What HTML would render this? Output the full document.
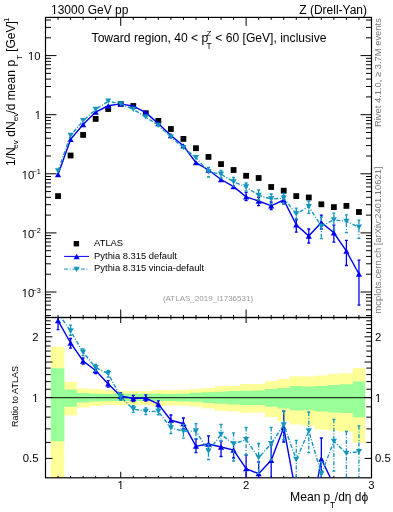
<!DOCTYPE html><html><head><meta charset="utf-8"><style>html,body{margin:0;padding:0;background:#fff;width:393px;height:512px;overflow:hidden}svg{display:block;will-change:transform}</style></head><body>
<svg width="393" height="512" viewBox="0 0 393 512">
<rect x="0" y="0" width="393" height="512" fill="#fff"/>
<defs><clipPath id="cm"><rect x="45.5" y="17.4" width="326.0" height="300.1"/></clipPath><clipPath id="cr"><rect x="45.5" y="317.5" width="326.0" height="160.3"/></clipPath></defs>
<g clip-path="url(#cr)">
<path d="M50.80 346.80L64.31 346.80L64.31 381.90L76.84 381.90L76.84 388.20L89.38 388.20L89.38 389.30L101.92 389.30L101.92 390.30L114.46 390.30L114.46 390.90L127.00 390.90L127.00 390.90L139.54 390.90L139.54 390.90L152.07 390.90L152.07 389.90L164.61 389.90L164.61 390.30L177.15 390.30L177.15 389.90L189.69 389.90L189.69 388.90L202.22 388.90L202.22 388.00L214.76 388.00L214.76 385.90L227.30 385.90L227.30 385.90L239.84 385.90L239.84 384.10L252.38 384.10L252.38 384.10L264.92 384.10L264.92 381.20L277.45 381.20L277.45 379.10L289.99 379.10L289.99 376.30L302.53 376.30L302.53 376.50L315.07 376.50L315.07 375.50L327.61 375.50L327.61 374.10L340.14 374.10L340.14 373.20L352.68 373.20L352.68 367.90L365.22 367.90L365.22 442.70L352.68 442.70L352.68 431.80L340.14 431.80L340.14 430.70L327.61 430.70L327.61 429.50L315.07 429.50L315.07 425.70L302.53 425.70L302.53 424.60L289.99 424.60L289.99 421.10L277.45 421.10L277.45 416.90L264.92 416.90L264.92 412.40L252.38 412.40L252.38 412.80L239.84 412.80L239.84 411.40L227.30 411.40L227.30 410.70L214.76 410.70L214.76 408.50L202.22 408.50L202.22 406.70L189.69 406.70L189.69 405.70L177.15 405.70L177.15 405.30L164.61 405.30L164.61 405.90L152.07 405.90L152.07 404.90L139.54 404.90L139.54 404.90L127.00 404.90L127.00 404.90L114.46 404.90L114.46 405.00L101.92 405.00L101.92 406.00L89.38 406.00L89.38 407.60L76.84 407.60L76.84 415.40L64.31 415.40L64.31 478.00L50.80 478.00Z" fill="#ffff99"/>
<path d="M50.80 368.20L64.31 368.20L64.31 389.40L76.84 389.40L76.84 392.90L89.38 392.90L89.38 393.70L101.92 393.70L101.92 394.00L114.46 394.00L114.46 393.80L127.00 393.80L127.00 393.80L139.54 393.80L139.54 393.80L152.07 393.80L152.07 393.80L164.61 393.80L164.61 394.10L177.15 394.10L177.15 393.80L189.69 393.80L189.69 392.70L202.22 392.70L202.22 392.20L214.76 392.20L214.76 391.80L227.30 391.80L227.30 391.10L239.84 391.10L239.84 390.70L252.38 390.70L252.38 390.40L264.92 390.40L264.92 388.90L277.45 388.90L277.45 387.90L289.99 387.90L289.99 386.10L302.53 386.10L302.53 386.60L315.07 386.60L315.07 386.00L327.61 386.00L327.61 385.00L340.14 385.00L340.14 384.30L352.68 384.30L352.68 381.50L365.22 381.50L365.22 417.20L352.68 417.20L352.68 413.10L340.14 413.10L340.14 412.40L327.61 412.40L327.61 411.40L315.07 411.40L315.07 410.30L302.53 410.30L302.53 410.60L289.99 410.60L289.99 408.50L277.45 408.50L277.45 406.70L264.92 406.70L264.92 405.10L252.38 405.10L252.38 405.10L239.84 405.10L239.84 404.40L227.30 404.40L227.30 403.70L214.76 403.70L214.76 403.00L202.22 403.00L202.22 401.80L189.69 401.80L189.69 401.50L177.15 401.50L177.15 401.10L164.61 401.10L164.61 401.10L152.07 401.10L152.07 401.10L139.54 401.10L139.54 401.10L127.00 401.10L127.00 401.10L114.46 401.10L114.46 401.00L101.92 401.00L101.92 401.50L89.38 401.50L89.38 402.50L76.84 402.50L76.84 406.80L64.31 406.80L64.31 441.20L50.80 441.20Z" fill="#99ff99"/>
<line x1="45.5" y1="397.6" x2="371.5" y2="397.6" stroke="#000" stroke-width="1.3" opacity="0.75"/>
</g>
<g stroke="#000" stroke-width="1.2" fill="none">
<rect x="45.5" y="17.4" width="326.0" height="300.1"/>
<rect x="45.5" y="317.5" width="326.0" height="160.3"/>
</g>
<path d="M45.5 315.52h5.5M371.5 315.52h-5.5M45.5 309.79h5.5M371.5 309.79h-5.5M45.5 305.11h5.5M371.5 305.11h-5.5M45.5 301.15h5.5M371.5 301.15h-5.5M45.5 297.73h5.5M371.5 297.73h-5.5M45.5 294.70h5.5M371.5 294.70h-5.5M45.5 292.00h11.0M371.5 292.00h-11.0M45.5 274.21h5.5M371.5 274.21h-5.5M45.5 263.80h5.5M371.5 263.80h-5.5M45.5 256.42h5.5M371.5 256.42h-5.5M45.5 250.69h5.5M371.5 250.69h-5.5M45.5 246.01h5.5M371.5 246.01h-5.5M45.5 242.05h5.5M371.5 242.05h-5.5M45.5 238.63h5.5M371.5 238.63h-5.5M45.5 235.60h5.5M371.5 235.60h-5.5M45.5 232.90h11.0M371.5 232.90h-11.0M45.5 215.11h5.5M371.5 215.11h-5.5M45.5 204.70h5.5M371.5 204.70h-5.5M45.5 197.32h5.5M371.5 197.32h-5.5M45.5 191.59h5.5M371.5 191.59h-5.5M45.5 186.91h5.5M371.5 186.91h-5.5M45.5 182.95h5.5M371.5 182.95h-5.5M45.5 179.53h5.5M371.5 179.53h-5.5M45.5 176.50h5.5M371.5 176.50h-5.5M45.5 173.80h11.0M371.5 173.80h-11.0M45.5 156.01h5.5M371.5 156.01h-5.5M45.5 145.60h5.5M371.5 145.60h-5.5M45.5 138.22h5.5M371.5 138.22h-5.5M45.5 132.49h5.5M371.5 132.49h-5.5M45.5 127.81h5.5M371.5 127.81h-5.5M45.5 123.85h5.5M371.5 123.85h-5.5M45.5 120.43h5.5M371.5 120.43h-5.5M45.5 117.40h5.5M371.5 117.40h-5.5M45.5 114.70h11.0M371.5 114.70h-11.0M45.5 96.91h5.5M371.5 96.91h-5.5M45.5 86.50h5.5M371.5 86.50h-5.5M45.5 79.12h5.5M371.5 79.12h-5.5M45.5 73.39h5.5M371.5 73.39h-5.5M45.5 68.71h5.5M371.5 68.71h-5.5M45.5 64.75h5.5M371.5 64.75h-5.5M45.5 61.33h5.5M371.5 61.33h-5.5M45.5 58.30h5.5M371.5 58.30h-5.5M45.5 55.60h11.0M371.5 55.60h-11.0M45.5 37.81h5.5M371.5 37.81h-5.5M45.5 27.40h5.5M371.5 27.40h-5.5M45.5 20.02h5.5M371.5 20.02h-5.5M45.5 458.40h7.0M371.5 458.40h-7.0M45.5 442.41h5.2M371.5 442.41h-5.2M45.5 428.89h5.2M371.5 428.89h-5.2M45.5 417.17h5.2M371.5 417.17h-5.2M45.5 406.84h5.2M371.5 406.84h-5.2M45.5 397.60h7.0M371.5 397.60h-7.0M45.5 389.24h5.2M371.5 389.24h-5.2M45.5 381.61h5.2M371.5 381.61h-5.2M45.5 374.59h5.2M371.5 374.59h-5.2M45.5 368.09h5.2M371.5 368.09h-5.2M45.5 362.03h7.0M371.5 362.03h-7.0M45.5 356.37h5.2M371.5 356.37h-5.2M45.5 351.06h5.2M371.5 351.06h-5.2M45.5 346.04h5.2M371.5 346.04h-5.2M45.5 341.30h5.2M371.5 341.30h-5.2M45.5 336.80h7.0M371.5 336.80h-7.0M45.5 332.52h5.2M371.5 332.52h-5.2M45.5 328.44h5.2M371.5 328.44h-5.2M45.5 324.54h5.2M371.5 324.54h-5.2M45.5 320.81h5.2M371.5 320.81h-5.2M45.50 17.4v2.5M45.50 317.5v-2.5M45.50 317.5v2.0M45.50 477.8v-2.0M58.04 17.4v2.5M58.04 317.5v-2.5M58.04 317.5v2.0M58.04 477.8v-2.0M70.58 17.4v2.5M70.58 317.5v-2.5M70.58 317.5v2.0M70.58 477.8v-2.0M83.11 17.4v2.5M83.11 317.5v-2.5M83.11 317.5v2.0M83.11 477.8v-2.0M95.65 17.4v2.5M95.65 317.5v-2.5M95.65 317.5v2.0M95.65 477.8v-2.0M108.19 17.4v2.5M108.19 317.5v-2.5M108.19 317.5v2.0M108.19 477.8v-2.0M120.73 17.4v8.5M120.73 317.5v-8.0M120.73 317.5v5.5M120.73 477.8v-6.0M133.27 17.4v2.5M133.27 317.5v-2.5M133.27 317.5v2.0M133.27 477.8v-2.0M145.80 17.4v2.5M145.80 317.5v-2.5M145.80 317.5v2.0M145.80 477.8v-2.0M158.34 17.4v2.5M158.34 317.5v-2.5M158.34 317.5v2.0M158.34 477.8v-2.0M170.88 17.4v2.5M170.88 317.5v-2.5M170.88 317.5v2.0M170.88 477.8v-2.0M183.42 17.4v2.5M183.42 317.5v-2.5M183.42 317.5v2.0M183.42 477.8v-2.0M195.96 17.4v2.5M195.96 317.5v-2.5M195.96 317.5v2.0M195.96 477.8v-2.0M208.49 17.4v2.5M208.49 317.5v-2.5M208.49 317.5v2.0M208.49 477.8v-2.0M221.03 17.4v2.5M221.03 317.5v-2.5M221.03 317.5v2.0M221.03 477.8v-2.0M233.57 17.4v2.5M233.57 317.5v-2.5M233.57 317.5v2.0M233.57 477.8v-2.0M246.11 17.4v8.5M246.11 317.5v-8.0M246.11 317.5v5.5M246.11 477.8v-6.0M258.65 17.4v2.5M258.65 317.5v-2.5M258.65 317.5v2.0M258.65 477.8v-2.0M271.18 17.4v2.5M271.18 317.5v-2.5M271.18 317.5v2.0M271.18 477.8v-2.0M283.72 17.4v2.5M283.72 317.5v-2.5M283.72 317.5v2.0M283.72 477.8v-2.0M296.26 17.4v2.5M296.26 317.5v-2.5M296.26 317.5v2.0M296.26 477.8v-2.0M308.80 17.4v2.5M308.80 317.5v-2.5M308.80 317.5v2.0M308.80 477.8v-2.0M321.34 17.4v2.5M321.34 317.5v-2.5M321.34 317.5v2.0M321.34 477.8v-2.0M333.87 17.4v2.5M333.87 317.5v-2.5M333.87 317.5v2.0M333.87 477.8v-2.0M346.41 17.4v2.5M346.41 317.5v-2.5M346.41 317.5v2.0M346.41 477.8v-2.0M358.95 17.4v2.5M358.95 317.5v-2.5M358.95 317.5v2.0M358.95 477.8v-2.0M371.49 17.4v8.5M371.49 317.5v-8.0M371.49 317.5v5.5M371.49 477.8v-6.0" stroke="#000" stroke-width="1" fill="none"/>
<g clip-path="url(#cm)">
<rect x="55.14" y="193.20" width="5.8" height="5.8" fill="#000"/>
<rect x="67.68" y="152.60" width="5.8" height="5.8" fill="#000"/>
<rect x="80.21" y="132.00" width="5.8" height="5.8" fill="#000"/>
<rect x="92.75" y="116.00" width="5.8" height="5.8" fill="#000"/>
<rect x="105.29" y="106.10" width="5.8" height="5.8" fill="#000"/>
<rect x="117.83" y="101.00" width="5.8" height="5.8" fill="#000"/>
<rect x="130.37" y="103.10" width="5.8" height="5.8" fill="#000"/>
<rect x="142.90" y="110.30" width="5.8" height="5.8" fill="#000"/>
<rect x="155.44" y="118.00" width="5.8" height="5.8" fill="#000"/>
<rect x="167.98" y="126.10" width="5.8" height="5.8" fill="#000"/>
<rect x="180.52" y="136.00" width="5.8" height="5.8" fill="#000"/>
<rect x="193.06" y="145.30" width="5.8" height="5.8" fill="#000"/>
<rect x="205.59" y="154.00" width="5.8" height="5.8" fill="#000"/>
<rect x="218.13" y="161.20" width="5.8" height="5.8" fill="#000"/>
<rect x="230.67" y="167.10" width="5.8" height="5.8" fill="#000"/>
<rect x="243.21" y="172.90" width="5.8" height="5.8" fill="#000"/>
<rect x="255.75" y="175.10" width="5.8" height="5.8" fill="#000"/>
<rect x="268.28" y="184.10" width="5.8" height="5.8" fill="#000"/>
<rect x="280.82" y="187.80" width="5.8" height="5.8" fill="#000"/>
<rect x="293.36" y="193.20" width="5.8" height="5.8" fill="#000"/>
<rect x="305.90" y="194.60" width="5.8" height="5.8" fill="#000"/>
<rect x="318.44" y="201.40" width="5.8" height="5.8" fill="#000"/>
<rect x="330.97" y="204.20" width="5.8" height="5.8" fill="#000"/>
<rect x="343.51" y="203.00" width="5.8" height="5.8" fill="#000"/>
<rect x="356.05" y="209.10" width="5.8" height="5.8" fill="#000"/>
<polyline points="58.04,174.50 70.58,139.40 83.11,124.50 95.65,112.00 108.19,105.80 120.73,103.90 133.27,106.20 145.80,112.70 158.34,123.60 170.88,135.50 183.42,145.80 195.96,162.60 208.49,170.00 221.03,179.50 233.57,186.60 246.11,196.90 258.65,201.00 271.18,205.80 283.72,200.00 296.26,224.80 308.80,236.00 321.34,222.50 333.87,232.80 346.41,251.10 358.95,274.00" fill="none" stroke="#0000f0" stroke-width="1.4"/>
<path d="M246.11 192.40V200.60M244.61 192.40h3M244.61 200.60h3M258.65 197.40V205.70M257.15 197.40h3M257.15 205.70h3M271.18 202.00V209.50M269.68 202.00h3M269.68 209.50h3M283.72 196.00V204.00M282.22 196.00h3M282.22 204.00h3M296.26 219.90V232.20M294.76 219.90h3M294.76 232.20h3M308.80 229.00V243.00M307.30 229.00h3M307.30 243.00h3M321.34 215.20V229.00M319.84 215.20h3M319.84 229.00h3M333.87 225.20V242.10M332.37 225.20h3M332.37 242.10h3M346.41 240.30V265.50M344.91 240.30h3M344.91 265.50h3M358.95 260.10V305.10M357.45 260.10h3M357.45 305.10h3" fill="none" stroke="#0000f0" stroke-width="1.3"/>
<path d="M54.94 177.13L61.14 177.13L58.04 171.87Z" fill="#0000f0"/>
<path d="M67.48 142.03L73.68 142.03L70.58 136.77Z" fill="#0000f0"/>
<path d="M80.01 127.14L86.21 127.14L83.11 121.86Z" fill="#0000f0"/>
<path d="M92.55 114.64L98.75 114.64L95.65 109.36Z" fill="#0000f0"/>
<path d="M105.09 108.44L111.29 108.44L108.19 103.16Z" fill="#0000f0"/>
<path d="M117.63 106.54L123.83 106.54L120.73 101.27Z" fill="#0000f0"/>
<path d="M130.17 108.84L136.37 108.84L133.27 103.56Z" fill="#0000f0"/>
<path d="M142.70 115.34L148.90 115.34L145.80 110.06Z" fill="#0000f0"/>
<path d="M155.24 126.23L161.44 126.23L158.34 120.96Z" fill="#0000f0"/>
<path d="M167.78 138.13L173.98 138.13L170.88 132.87Z" fill="#0000f0"/>
<path d="M180.32 148.44L186.52 148.44L183.42 143.17Z" fill="#0000f0"/>
<path d="M192.86 165.23L199.06 165.23L195.96 159.97Z" fill="#0000f0"/>
<path d="M205.39 172.63L211.59 172.63L208.49 167.37Z" fill="#0000f0"/>
<path d="M217.93 182.13L224.13 182.13L221.03 176.87Z" fill="#0000f0"/>
<path d="M230.47 189.23L236.67 189.23L233.57 183.97Z" fill="#0000f0"/>
<path d="M243.01 199.53L249.21 199.53L246.11 194.27Z" fill="#0000f0"/>
<path d="M255.55 203.63L261.75 203.63L258.65 198.37Z" fill="#0000f0"/>
<path d="M268.08 208.44L274.28 208.44L271.18 203.17Z" fill="#0000f0"/>
<path d="M280.62 202.63L286.82 202.63L283.72 197.37Z" fill="#0000f0"/>
<path d="M293.16 227.44L299.36 227.44L296.26 222.17Z" fill="#0000f0"/>
<path d="M305.70 238.63L311.90 238.63L308.80 233.37Z" fill="#0000f0"/>
<path d="M318.24 225.13L324.44 225.13L321.34 219.87Z" fill="#0000f0"/>
<path d="M330.77 235.44L336.97 235.44L333.87 230.17Z" fill="#0000f0"/>
<path d="M343.31 253.73L349.51 253.73L346.41 248.47Z" fill="#0000f0"/>
<path d="M355.85 276.63L362.05 276.63L358.95 271.37Z" fill="#0000f0"/>
<polyline points="58.04,170.80 70.58,135.40 83.11,120.70 95.65,109.50 108.19,101.20 120.73,103.90 133.27,109.30 145.80,117.20 158.34,125.30 170.88,137.00 183.42,147.70 195.96,157.70 208.49,171.70 221.03,174.20 233.57,181.80 246.11,187.00 258.65,195.30 271.18,199.00 283.72,198.20 296.26,213.80 308.80,206.60 321.34,226.30 333.87,219.80 346.41,221.30 358.95,227.20" fill="none" stroke="#1296bd" stroke-width="1.4" stroke-dasharray="4,1.7,1,1.7"/>
<path d="M208.49 167.30V177.00M206.99 167.30h3M206.99 177.00h3M221.03 170.50V178.00M219.53 170.50h3M219.53 178.00h3M233.57 177.50V186.00M232.07 177.50h3M232.07 186.00h3M246.11 183.00V191.00M244.61 183.00h3M244.61 191.00h3M258.65 190.00V200.00M257.15 190.00h3M257.15 200.00h3M271.18 194.00V204.00M269.68 194.00h3M269.68 204.00h3M283.72 193.50V204.00M282.22 193.50h3M282.22 204.00h3M296.26 208.20V218.70M294.76 208.20h3M294.76 218.70h3M308.80 201.10V213.40M307.30 201.10h3M307.30 213.40h3M321.34 217.00V238.70M319.84 217.00h3M319.84 238.70h3M333.87 213.20V230.20M332.37 213.20h3M332.37 230.20h3M346.41 214.90V232.50M344.91 214.90h3M344.91 232.50h3M358.95 220.20V238.40M357.45 220.20h3M357.45 238.40h3" fill="none" stroke="#1296bd" stroke-width="1.3" stroke-dasharray="4,1.7,1,1.7"/>
<path d="M54.94 168.17L61.14 168.17L58.04 173.44Z" fill="#1296bd"/>
<path d="M67.48 132.77L73.68 132.77L70.58 138.03Z" fill="#1296bd"/>
<path d="M80.01 118.06L86.21 118.06L83.11 123.34Z" fill="#1296bd"/>
<path d="M92.55 106.86L98.75 106.86L95.65 112.14Z" fill="#1296bd"/>
<path d="M105.09 98.56L111.29 98.56L108.19 103.84Z" fill="#1296bd"/>
<path d="M117.63 101.27L123.83 101.27L120.73 106.54Z" fill="#1296bd"/>
<path d="M130.17 106.66L136.37 106.66L133.27 111.94Z" fill="#1296bd"/>
<path d="M142.70 114.56L148.90 114.56L145.80 119.84Z" fill="#1296bd"/>
<path d="M155.24 122.66L161.44 122.66L158.34 127.94Z" fill="#1296bd"/>
<path d="M167.78 134.37L173.98 134.37L170.88 139.63Z" fill="#1296bd"/>
<path d="M180.32 145.06L186.52 145.06L183.42 150.33Z" fill="#1296bd"/>
<path d="M192.86 155.06L199.06 155.06L195.96 160.33Z" fill="#1296bd"/>
<path d="M205.39 169.06L211.59 169.06L208.49 174.33Z" fill="#1296bd"/>
<path d="M217.93 171.56L224.13 171.56L221.03 176.83Z" fill="#1296bd"/>
<path d="M230.47 179.17L236.67 179.17L233.57 184.44Z" fill="#1296bd"/>
<path d="M243.01 184.37L249.21 184.37L246.11 189.63Z" fill="#1296bd"/>
<path d="M255.55 192.67L261.75 192.67L258.65 197.94Z" fill="#1296bd"/>
<path d="M268.08 196.37L274.28 196.37L271.18 201.63Z" fill="#1296bd"/>
<path d="M280.62 195.56L286.82 195.56L283.72 200.83Z" fill="#1296bd"/>
<path d="M293.16 211.17L299.36 211.17L296.26 216.44Z" fill="#1296bd"/>
<path d="M305.70 203.97L311.90 203.97L308.80 209.23Z" fill="#1296bd"/>
<path d="M318.24 223.67L324.44 223.67L321.34 228.94Z" fill="#1296bd"/>
<path d="M330.77 217.17L336.97 217.17L333.87 222.44Z" fill="#1296bd"/>
<path d="M343.31 218.67L349.51 218.67L346.41 223.94Z" fill="#1296bd"/>
<path d="M355.85 224.56L362.05 224.56L358.95 229.83Z" fill="#1296bd"/>
</g>
<g clip-path="url(#cr)">
<polyline points="58.04,320.70 70.58,343.00 83.11,361.00 95.65,370.50 108.19,383.90 120.73,396.00 133.27,398.50 145.80,398.00 158.34,404.00 170.88,420.30 183.42,423.70 195.96,446.20 208.49,444.00 221.03,447.00 233.57,450.00 246.11,468.70 258.65,473.70 271.18,460.30 283.72,427.50 296.26,495.00 308.80,529.00 321.34,459.00 333.87,485.00 346.41,553.00 358.95,610.00" fill="none" stroke="#0000f0" stroke-width="1.4"/>
<path d="M58.04 310.00V329.60M56.54 310.00h3M56.54 329.60h3M70.58 338.50V348.10M69.08 338.50h3M69.08 348.10h3M170.88 415.00V426.00M169.38 415.00h3M169.38 426.00h3M183.42 418.00V429.00M181.92 418.00h3M181.92 429.00h3M195.96 439.00V452.70M194.46 439.00h3M194.46 452.70h3M208.49 435.90V450.40M206.99 435.90h3M206.99 450.40h3M221.03 441.20V456.50M219.53 441.20h3M219.53 456.50h3M233.57 443.00V458.00M232.07 443.00h3M232.07 458.00h3M246.11 455.00V485.00M244.61 455.00h3M244.61 485.00h3M258.65 462.00V490.00M257.15 462.00h3M257.15 490.00h3M271.18 445.00V500.00M269.68 445.00h3M269.68 500.00h3M283.72 411.20V442.00M282.22 411.20h3M282.22 442.00h3M321.34 438.00V480.00M319.84 438.00h3M319.84 480.00h3M83.11 357.80V364.20M81.61 357.80h3M81.61 364.20h3M95.65 367.30V373.70M94.15 367.30h3M94.15 373.70h3M108.19 380.70V387.10M106.69 380.70h3M106.69 387.10h3M120.73 392.80V399.20M119.23 392.80h3M119.23 399.20h3M133.27 395.30V401.70M131.77 395.30h3M131.77 401.70h3M145.80 394.80V401.20M144.30 394.80h3M144.30 401.20h3M158.34 400.80V407.20M156.84 400.80h3M156.84 407.20h3" fill="none" stroke="#0000f0" stroke-width="1.3"/>
<path d="M54.94 323.33L61.14 323.33L58.04 318.06Z" fill="#0000f0"/>
<path d="M67.48 345.63L73.68 345.63L70.58 340.37Z" fill="#0000f0"/>
<path d="M80.01 363.63L86.21 363.63L83.11 358.37Z" fill="#0000f0"/>
<path d="M92.55 373.13L98.75 373.13L95.65 367.87Z" fill="#0000f0"/>
<path d="M105.09 386.53L111.29 386.53L108.19 381.26Z" fill="#0000f0"/>
<path d="M117.63 398.63L123.83 398.63L120.73 393.37Z" fill="#0000f0"/>
<path d="M130.17 401.13L136.37 401.13L133.27 395.87Z" fill="#0000f0"/>
<path d="M142.70 400.63L148.90 400.63L145.80 395.37Z" fill="#0000f0"/>
<path d="M155.24 406.63L161.44 406.63L158.34 401.37Z" fill="#0000f0"/>
<path d="M167.78 422.94L173.98 422.94L170.88 417.67Z" fill="#0000f0"/>
<path d="M180.32 426.33L186.52 426.33L183.42 421.06Z" fill="#0000f0"/>
<path d="M192.86 448.83L199.06 448.83L195.96 443.56Z" fill="#0000f0"/>
<path d="M205.39 446.63L211.59 446.63L208.49 441.37Z" fill="#0000f0"/>
<path d="M217.93 449.63L224.13 449.63L221.03 444.37Z" fill="#0000f0"/>
<path d="M230.47 452.63L236.67 452.63L233.57 447.37Z" fill="#0000f0"/>
<path d="M243.01 471.33L249.21 471.33L246.11 466.06Z" fill="#0000f0"/>
<path d="M255.55 476.33L261.75 476.33L258.65 471.06Z" fill="#0000f0"/>
<path d="M268.08 462.94L274.28 462.94L271.18 457.67Z" fill="#0000f0"/>
<path d="M280.62 430.13L286.82 430.13L283.72 424.87Z" fill="#0000f0"/>
<path d="M318.24 461.63L324.44 461.63L321.34 456.37Z" fill="#0000f0"/>
<polyline points="58.04,313.00 70.58,331.00 83.11,352.30 95.65,367.70 108.19,373.70 120.73,397.00 133.27,409.00 145.80,411.30 158.34,411.50 170.88,427.90 183.42,431.30 195.96,431.00 208.49,451.10 221.03,434.40 233.57,443.90 246.11,439.70 258.65,457.70 271.18,443.70 283.72,425.00 296.26,459.50 308.80,431.00 321.34,474.00 333.87,441.30 346.41,453.40 358.95,451.70" fill="none" stroke="#1296bd" stroke-width="1.4" stroke-dasharray="4,1.7,1,1.7"/>
<path d="M83.11 348.90V355.70M81.61 348.90h3M81.61 355.70h3M95.65 364.30V371.10M94.15 364.30h3M94.15 371.10h3M108.19 370.30V377.10M106.69 370.30h3M106.69 377.10h3M120.73 393.60V400.40M119.23 393.60h3M119.23 400.40h3M133.27 405.60V412.40M131.77 405.60h3M131.77 412.40h3M145.80 407.90V414.70M144.30 407.90h3M144.30 414.70h3M158.34 408.10V414.90M156.84 408.10h3M156.84 414.90h3M70.58 325.20V335.40M69.08 325.20h3M69.08 335.40h3M170.88 422.90V433.60M169.38 422.90h3M169.38 433.60h3M183.42 424.40V438.20M181.92 424.40h3M181.92 438.20h3M195.96 423.70V438.90M194.46 423.70h3M194.46 438.90h3M208.49 444.30V459.50M206.99 444.30h3M206.99 459.50h3M221.03 424.40V441.20M219.53 424.40h3M219.53 441.20h3M233.57 432.80V461.00M232.07 432.80h3M232.07 461.00h3M246.11 427.50V455.00M244.61 427.50h3M244.61 455.00h3M258.65 443.50V473.30M257.15 443.50h3M257.15 473.30h3M271.18 427.40V460.00M269.68 427.40h3M269.68 460.00h3M283.72 411.00V440.00M282.22 411.00h3M282.22 440.00h3M296.26 440.40V480.00M294.76 440.40h3M294.76 480.00h3M308.80 412.00V452.60M307.30 412.00h3M307.30 452.60h3M321.34 462.00V486.00M319.84 462.00h3M319.84 486.00h3M333.87 419.30V471.20M332.37 419.30h3M332.37 471.20h3M346.41 431.50V480.00M344.91 431.50h3M344.91 480.00h3M358.95 425.80V480.00M357.45 425.80h3M357.45 480.00h3" fill="none" stroke="#1296bd" stroke-width="1.3" stroke-dasharray="4,1.7,1,1.7"/>
<path d="M54.94 310.37L61.14 310.37L58.04 315.63Z" fill="#1296bd"/>
<path d="M67.48 328.37L73.68 328.37L70.58 333.63Z" fill="#1296bd"/>
<path d="M80.01 349.67L86.21 349.67L83.11 354.94Z" fill="#1296bd"/>
<path d="M92.55 365.06L98.75 365.06L95.65 370.33Z" fill="#1296bd"/>
<path d="M105.09 371.06L111.29 371.06L108.19 376.33Z" fill="#1296bd"/>
<path d="M117.63 394.37L123.83 394.37L120.73 399.63Z" fill="#1296bd"/>
<path d="M130.17 406.37L136.37 406.37L133.27 411.63Z" fill="#1296bd"/>
<path d="M142.70 408.67L148.90 408.67L145.80 413.94Z" fill="#1296bd"/>
<path d="M155.24 408.87L161.44 408.87L158.34 414.13Z" fill="#1296bd"/>
<path d="M167.78 425.26L173.98 425.26L170.88 430.53Z" fill="#1296bd"/>
<path d="M180.32 428.67L186.52 428.67L183.42 433.94Z" fill="#1296bd"/>
<path d="M192.86 428.37L199.06 428.37L195.96 433.63Z" fill="#1296bd"/>
<path d="M205.39 448.47L211.59 448.47L208.49 453.74Z" fill="#1296bd"/>
<path d="M217.93 431.76L224.13 431.76L221.03 437.03Z" fill="#1296bd"/>
<path d="M230.47 441.26L236.67 441.26L233.57 446.53Z" fill="#1296bd"/>
<path d="M243.01 437.06L249.21 437.06L246.11 442.33Z" fill="#1296bd"/>
<path d="M255.55 455.06L261.75 455.06L258.65 460.33Z" fill="#1296bd"/>
<path d="M268.08 441.06L274.28 441.06L271.18 446.33Z" fill="#1296bd"/>
<path d="M280.62 422.37L286.82 422.37L283.72 427.63Z" fill="#1296bd"/>
<path d="M293.16 456.87L299.36 456.87L296.26 462.13Z" fill="#1296bd"/>
<path d="M305.70 428.37L311.90 428.37L308.80 433.63Z" fill="#1296bd"/>
<path d="M318.24 471.37L324.44 471.37L321.34 476.63Z" fill="#1296bd"/>
<path d="M330.77 438.67L336.97 438.67L333.87 443.94Z" fill="#1296bd"/>
<path d="M343.31 450.76L349.51 450.76L346.41 456.03Z" fill="#1296bd"/>
<path d="M355.85 449.06L362.05 449.06L358.95 454.33Z" fill="#1296bd"/>
</g>
<g font-family="Liberation Sans, sans-serif" fill="#000">
<text x="51" y="14.3" font-size="12">13000 GeV pp</text>
<text x="367" y="14.3" font-size="12" text-anchor="end">Z (Drell-Yan)</text>
<text x="91.6" y="41.8" font-size="12.1">Toward region, 40 &lt; p</text>
<text x="206.5" y="36.2" font-size="8">Z</text>
<text x="206.4" y="49" font-size="8.3">T</text>
<text x="215.3" y="41.8" font-size="12.1">&lt; 60 [GeV], inclusive</text>
<text x="40.5" y="59.9" font-size="11.3" text-anchor="end">10</text>
<text x="41.1" y="118.7" font-size="11.3" text-anchor="end">1</text>
<text x="21.8" y="178.8" font-size="11.3">10</text>
<text x="32.6" y="174.2" font-size="7.3">&#8722;1</text>
<text x="21.8" y="237.9" font-size="11.3">10</text>
<text x="32.6" y="233.3" font-size="7.3">&#8722;2</text>
<text x="21.8" y="297.4" font-size="11.3">10</text>
<text x="32.6" y="292.8" font-size="7.3">&#8722;3</text>
<text x="38.5" y="340.8" font-size="11.3" text-anchor="end">2</text>
<text x="375" y="340.8" font-size="11.3">2</text>
<text x="38.5" y="401.6" font-size="11.3" text-anchor="end">1</text>
<text x="375" y="401.6" font-size="11.3">1</text>
<text x="38.5" y="462.4" font-size="11.3" text-anchor="end">0.5</text>
<text x="375" y="462.4" font-size="11.3">0.5</text>
<text x="120.7" y="489" font-size="11.3" text-anchor="middle">1</text>
<text x="246.1" y="489" font-size="11.3" text-anchor="middle">2</text>
<text x="371.5" y="489" font-size="11.3" text-anchor="middle">3</text>
<text x="290.1" y="500.8" font-size="12.2">Mean</text>
<text x="323.4" y="500.8" font-size="12">p</text>
<text x="330.0" y="507.9" font-size="8.3">T</text>
<text x="334.8" y="500.8" font-size="12">/d&#951; d&#981;</text>
<text transform="translate(15.10,166) rotate(-90)" x="0.10" y="0.00" font-size="12">1/N</text>
<text transform="translate(15.10,166) rotate(-90)" x="17.35" y="3.30" font-size="8">ev</text>
<text transform="translate(15.10,166) rotate(-90)" x="29.30" y="0.00" font-size="12">dN</text>
<text transform="translate(15.10,166) rotate(-90)" x="44.75" y="3.30" font-size="8">ev</text>
<text transform="translate(15.10,166) rotate(-90)" x="52.50" y="0.00" font-size="12">/d mean</text>
<text transform="translate(15.10,166) rotate(-90)" x="99.55" y="0.00" font-size="12">p</text>
<text transform="translate(15.10,166) rotate(-90)" x="106.25" y="6.90" font-size="8">T</text>
<text transform="translate(15.10,166) rotate(-90)" x="114.20" y="0.00" font-size="12">[GeV]</text>
<text transform="translate(15.10,166) rotate(-90)" x="139.45" y="-6.20" font-size="8">&#8722;1</text>
<text transform="translate(18,396.5) rotate(-90)" font-size="9" text-anchor="middle">Ratio to ATLAS</text>
<text transform="translate(380.8,127) rotate(-90)" font-size="9.4" fill="#777">Rivet 4.1.0, &#8805; 3.7M events</text>
<text transform="translate(380.8,313.5) rotate(-90)" font-size="9.4" fill="#777">mcplots.cern.ch [arXiv:2401.10621]</text>
<rect x="73.7" y="241" width="5.4" height="5.4" fill="#000"/>
<text x="94.1" y="246.3" font-size="9.4">ATLAS</text>
<line x1="64.1" y1="256.4" x2="89" y2="256.4" stroke="#0000f0" stroke-width="1"/>
<path d="M73.50 259.13L79.70 259.13L76.60 253.87Z" fill="#0000f0"/>
<text x="94.1" y="258.5" font-size="9.4">Pythia 8.315 default</text>
<line x1="64.1" y1="269.1" x2="89" y2="269.1" stroke="#1296bd" stroke-width="1" stroke-dasharray="4,1.6,1,1.8"/>
<path d="M73.50 266.67L79.70 266.67L76.60 271.94Z" fill="#1296bd"/>
<text x="94.1" y="271.2" font-size="9.4">Pythia 8.315 vincia-default</text>
<text x="208" y="301.4" font-size="8" fill="#999" text-anchor="middle">(ATLAS_2019_I1736531)</text>
</g>
<rect x="51.32" y="12.60" width="2.50" height="2.50" fill="#fff"/><rect x="55.25" y="12.60" width="2.34" height="2.50" fill="#fff"/><rect x="28.23" y="58.20" width="2.35" height="2.50" fill="#fff"/><rect x="31.93" y="58.20" width="2.20" height="2.50" fill="#fff"/><rect x="35.12" y="117.00" width="2.35" height="2.50" fill="#fff"/><rect x="38.82" y="117.00" width="2.20" height="2.50" fill="#fff"/><rect x="22.10" y="177.10" width="2.35" height="2.50" fill="#fff"/><rect x="25.80" y="177.10" width="2.20" height="2.50" fill="#fff"/><rect x="22.10" y="236.20" width="2.35" height="2.50" fill="#fff"/><rect x="25.80" y="236.20" width="2.20" height="2.50" fill="#fff"/><rect x="22.10" y="295.70" width="2.35" height="2.50" fill="#fff"/><rect x="25.80" y="295.70" width="2.20" height="2.50" fill="#fff"/><rect x="32.52" y="399.90" width="2.35" height="2.50" fill="#fff"/><rect x="36.22" y="399.90" width="2.20" height="2.50" fill="#fff"/><rect x="375.30" y="399.90" width="2.35" height="2.50" fill="#fff"/><rect x="379.00" y="399.90" width="2.20" height="2.50" fill="#fff"/><rect x="117.89" y="487.30" width="2.35" height="2.50" fill="#fff"/><rect x="121.59" y="487.30" width="2.20" height="2.50" fill="#fff"/>
</svg></body></html>
